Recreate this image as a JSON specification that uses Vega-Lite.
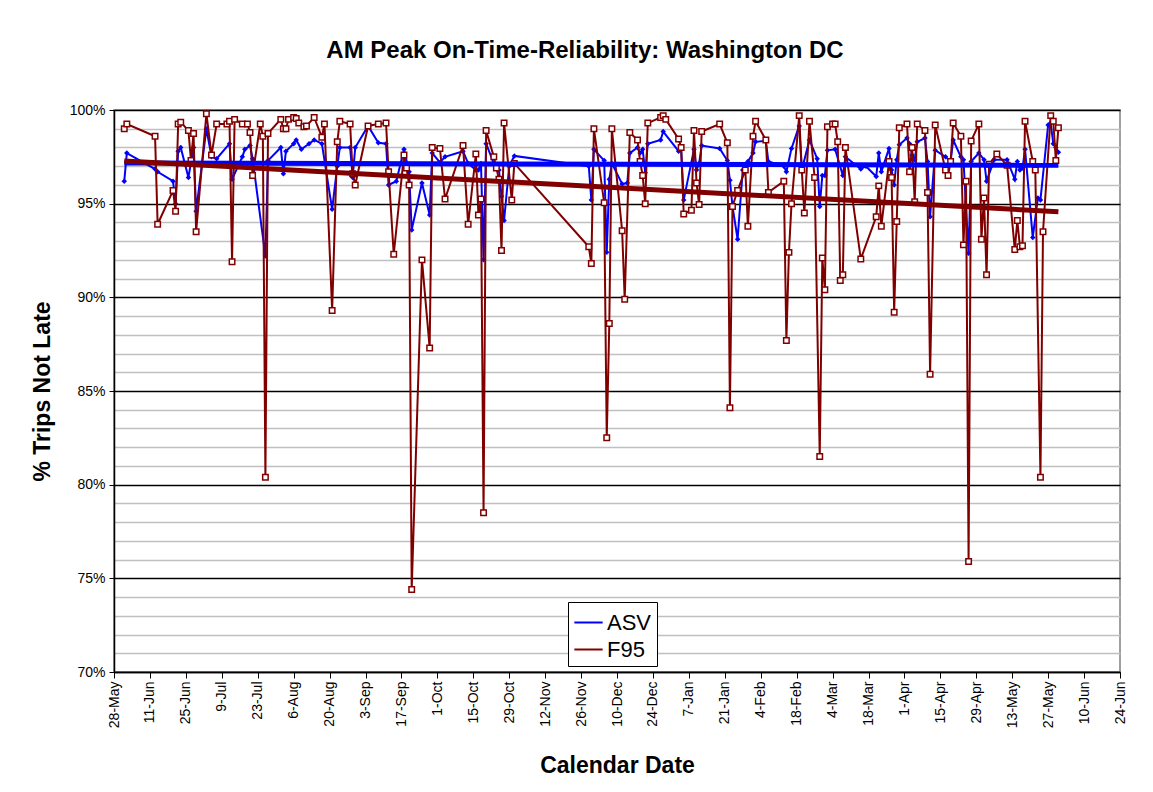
{
  "$schema": "https://vega.github.io/schema/vega-lite/v6.json",
  "width": 1006,
  "height": 562,
  "autosize": "none",
  "padding": {"left": 114, "top": 110, "right": 33, "bottom": 120},
  "background": "white",
  "title": {"text": "AM Peak On-Time-Reliability: Washington DC", "font": "Liberation Sans", "fontSize": 24, "fontWeight": "bold", "color": "black", "anchor": "middle", "frame": "group", "dx": -32, "offset": 40},
  "config": {
    "view": {"stroke": "#808080", "strokeWidth": 1.5},
    "axis": {"labelFont": "Liberation Sans", "titleFont": "Liberation Sans", "labelColor": "black", "titleColor": "black", "domainColor": "black", "domainWidth": 1.5, "tickColor": "black"}
  },
  "datasets": {
    "pts": [
      {"d":"2006-06-01","s":"ASV","v":96.2},{"d":"2006-06-02","s":"ASV","v":97.7},{"d":"2006-06-13","s":"ASV","v":96.85},{"d":"2006-06-14","s":"ASV","v":96.7},{"d":"2006-06-20","s":"ASV","v":96.2},{"d":"2006-06-21","s":"ASV","v":95.0},{"d":"2006-06-22","s":"ASV","v":97.8},{"d":"2006-06-23","s":"ASV","v":98.0},{"d":"2006-06-26","s":"ASV","v":96.4},{"d":"2006-06-28","s":"ASV","v":98.0},{"d":"2006-06-29","s":"ASV","v":94.6},
      {"d":"2006-07-03","s":"ASV","v":99.0},{"d":"2006-07-05","s":"ASV","v":97.5},{"d":"2006-07-07","s":"ASV","v":97.4},{"d":"2006-07-12","s":"ASV","v":98.2},{"d":"2006-07-13","s":"ASV","v":96.3},{"d":"2006-07-17","s":"ASV","v":97.5},{"d":"2006-07-18","s":"ASV","v":97.9},{"d":"2006-07-20","s":"ASV","v":98.1},{"d":"2006-07-21","s":"ASV","v":97.4},{"d":"2006-07-26","s":"ASV","v":92.2},{"d":"2006-07-27","s":"ASV","v":97.3},
      {"d":"2006-08-01","s":"ASV","v":98.0},{"d":"2006-08-02","s":"ASV","v":96.6},{"d":"2006-08-03","s":"ASV","v":97.8},{"d":"2006-08-06","s":"ASV","v":98.2},{"d":"2006-08-07","s":"ASV","v":98.4},{"d":"2006-08-09","s":"ASV","v":97.9},{"d":"2006-08-12","s":"ASV","v":98.2},{"d":"2006-08-14","s":"ASV","v":98.4},{"d":"2006-08-17","s":"ASV","v":98.2},{"d":"2006-08-21","s":"ASV","v":94.7},{"d":"2006-08-23","s":"ASV","v":97.0},{"d":"2006-08-24","s":"ASV","v":98.0},{"d":"2006-08-28","s":"ASV","v":98.0},{"d":"2006-08-29","s":"ASV","v":96.4},{"d":"2006-08-30","s":"ASV","v":98.0},
      {"d":"2006-09-04","s":"ASV","v":99.15},{"d":"2006-09-08","s":"ASV","v":98.25},{"d":"2006-09-11","s":"ASV","v":98.2},{"d":"2006-09-12","s":"ASV","v":96.0},{"d":"2006-09-15","s":"ASV","v":96.2},{"d":"2006-09-18","s":"ASV","v":97.9},{"d":"2006-09-20","s":"ASV","v":96.7},{"d":"2006-09-21","s":"ASV","v":93.6},{"d":"2006-09-25","s":"ASV","v":96.1},{"d":"2006-09-28","s":"ASV","v":94.4},{"d":"2006-09-29","s":"ASV","v":97.7},
      {"d":"2006-10-02","s":"ASV","v":97.2},{"d":"2006-10-04","s":"ASV","v":97.5},{"d":"2006-10-11","s":"ASV","v":97.8},{"d":"2006-10-13","s":"ASV","v":97.15},{"d":"2006-10-16","s":"ASV","v":96.8},{"d":"2006-10-17","s":"ASV","v":96.8},{"d":"2006-10-18","s":"ASV","v":97.15},{"d":"2006-10-19","s":"ASV","v":92.0},{"d":"2006-10-20","s":"ASV","v":98.2},{"d":"2006-10-23","s":"ASV","v":97.15},{"d":"2006-10-25","s":"ASV","v":96.8},{"d":"2006-10-26","s":"ASV","v":95.4},{"d":"2006-10-27","s":"ASV","v":94.1},{"d":"2006-10-29","s":"ASV","v":97.0},{"d":"2006-10-31","s":"ASV","v":97.55},
      {"d":"2006-11-29","s":"ASV","v":97.0},{"d":"2006-11-30","s":"ASV","v":95.2},{"d":"2006-12-01","s":"ASV","v":97.9},{"d":"2006-12-05","s":"ASV","v":97.3},{"d":"2006-12-06","s":"ASV","v":92.4},{"d":"2006-12-07","s":"ASV","v":96.3},{"d":"2006-12-08","s":"ASV","v":97.15},{"d":"2006-12-12","s":"ASV","v":96.05},{"d":"2006-12-14","s":"ASV","v":96.1},{"d":"2006-12-15","s":"ASV","v":97.7},{"d":"2006-12-18","s":"ASV","v":98.0},{"d":"2006-12-19","s":"ASV","v":97.7},{"d":"2006-12-20","s":"ASV","v":97.9},{"d":"2006-12-21","s":"ASV","v":96.65},{"d":"2006-12-22","s":"ASV","v":98.2},{"d":"2006-12-27","s":"ASV","v":98.4},{"d":"2006-12-28","s":"ASV","v":98.85},
      {"d":"2007-01-03","s":"ASV","v":97.8},{"d":"2007-01-04","s":"ASV","v":97.9},{"d":"2007-01-05","s":"ASV","v":95.2},{"d":"2007-01-09","s":"ASV","v":97.9},{"d":"2007-01-10","s":"ASV","v":96.8},{"d":"2007-01-11","s":"ASV","v":97.15},{"d":"2007-01-12","s":"ASV","v":98.1},{"d":"2007-01-19","s":"ASV","v":97.95},{"d":"2007-01-22","s":"ASV","v":97.3},{"d":"2007-01-23","s":"ASV","v":96.25},{"d":"2007-01-24","s":"ASV","v":94.85},{"d":"2007-01-26","s":"ASV","v":93.1},{"d":"2007-01-28","s":"ASV","v":96.8},{"d":"2007-01-30","s":"ASV","v":97.25},
      {"d":"2007-02-01","s":"ASV","v":97.7},{"d":"2007-02-02","s":"ASV","v":98.3},{"d":"2007-02-06","s":"ASV","v":98.35},{"d":"2007-02-07","s":"ASV","v":97.25},{"d":"2007-02-13","s":"ASV","v":97.0},{"d":"2007-02-14","s":"ASV","v":96.7},{"d":"2007-02-16","s":"ASV","v":97.95},{"d":"2007-02-19","s":"ASV","v":99.15},{"d":"2007-02-20","s":"ASV","v":96.8},{"d":"2007-02-23","s":"ASV","v":98.4},{"d":"2007-02-26","s":"ASV","v":97.4},{"d":"2007-02-27","s":"ASV","v":94.85},{"d":"2007-02-28","s":"ASV","v":96.5},
      {"d":"2007-03-01","s":"ASV","v":96.5},{"d":"2007-03-02","s":"ASV","v":97.85},{"d":"2007-03-05","s":"ASV","v":97.9},{"d":"2007-03-08","s":"ASV","v":96.5},{"d":"2007-03-09","s":"ASV","v":97.5},{"d":"2007-03-15","s":"ASV","v":96.85},{"d":"2007-03-17","s":"ASV","v":97.0},{"d":"2007-03-21","s":"ASV","v":96.45},{"d":"2007-03-22","s":"ASV","v":97.7},{"d":"2007-03-23","s":"ASV","v":96.7},{"d":"2007-03-26","s":"ASV","v":97.95},{"d":"2007-03-27","s":"ASV","v":96.8},{"d":"2007-03-28","s":"ASV","v":96.0},{"d":"2007-03-29","s":"ASV","v":97.35},{"d":"2007-03-30","s":"ASV","v":98.15},
      {"d":"2007-04-02","s":"ASV","v":98.5},{"d":"2007-04-03","s":"ASV","v":98.2},{"d":"2007-04-04","s":"ASV","v":97.6},{"d":"2007-04-05","s":"ASV","v":97.35},{"d":"2007-04-06","s":"ASV","v":98.3},{"d":"2007-04-09","s":"ASV","v":98.5},{"d":"2007-04-10","s":"ASV","v":97.25},{"d":"2007-04-11","s":"ASV","v":94.3},{"d":"2007-04-13","s":"ASV","v":97.85},{"d":"2007-04-17","s":"ASV","v":97.5},{"d":"2007-04-19","s":"ASV","v":97.25},{"d":"2007-04-20","s":"ASV","v":98.4},{"d":"2007-04-23","s":"ASV","v":97.5},{"d":"2007-04-24","s":"ASV","v":97.35},{"d":"2007-04-26","s":"ASV","v":92.35},{"d":"2007-04-27","s":"ASV","v":97.25},{"d":"2007-04-30","s":"ASV","v":97.7},
      {"d":"2007-05-02","s":"ASV","v":97.35},{"d":"2007-05-03","s":"ASV","v":96.2},{"d":"2007-05-06","s":"ASV","v":97.35},{"d":"2007-05-11","s":"ASV","v":97.35},{"d":"2007-05-14","s":"ASV","v":96.3},{"d":"2007-05-15","s":"ASV","v":97.25},{"d":"2007-05-16","s":"ASV","v":96.8},{"d":"2007-05-17","s":"ASV","v":96.9},{"d":"2007-05-18","s":"ASV","v":97.9},{"d":"2007-05-21","s":"ASV","v":93.2},{"d":"2007-05-23","s":"ASV","v":95.3},{"d":"2007-05-24","s":"ASV","v":95.2},{"d":"2007-05-27","s":"ASV","v":99.2},{"d":"2007-05-28","s":"ASV","v":99.3},{"d":"2007-05-29","s":"ASV","v":98.2},{"d":"2007-05-30","s":"ASV","v":98.0},{"d":"2007-05-31","s":"ASV","v":97.75},

      {"d":"2006-06-01","s":"F95","v":99.0},{"d":"2006-06-02","s":"F95","v":99.25},{"d":"2006-06-13","s":"F95","v":98.6},{"d":"2006-06-14","s":"F95","v":93.9},{"d":"2006-06-20","s":"F95","v":95.7},{"d":"2006-06-21","s":"F95","v":94.6},{"d":"2006-06-22","s":"F95","v":99.25},{"d":"2006-06-23","s":"F95","v":99.35},{"d":"2006-06-26","s":"F95","v":98.9},{"d":"2006-06-27","s":"F95","v":97.3},{"d":"2006-06-28","s":"F95","v":98.75},{"d":"2006-06-29","s":"F95","v":93.5},
      {"d":"2006-07-03","s":"F95","v":99.8},{"d":"2006-07-05","s":"F95","v":97.6},{"d":"2006-07-07","s":"F95","v":99.25},{"d":"2006-07-11","s":"F95","v":99.25},{"d":"2006-07-12","s":"F95","v":99.4},{"d":"2006-07-13","s":"F95","v":91.9},{"d":"2006-07-14","s":"F95","v":99.5},{"d":"2006-07-17","s":"F95","v":99.25},{"d":"2006-07-19","s":"F95","v":99.25},{"d":"2006-07-20","s":"F95","v":98.8},{"d":"2006-07-21","s":"F95","v":96.5},{"d":"2006-07-24","s":"F95","v":99.25},{"d":"2006-07-25","s":"F95","v":98.6},{"d":"2006-07-26","s":"F95","v":80.4},{"d":"2006-07-27","s":"F95","v":98.75},
      {"d":"2006-08-01","s":"F95","v":99.5},{"d":"2006-08-02","s":"F95","v":99.0},{"d":"2006-08-03","s":"F95","v":99.0},{"d":"2006-08-04","s":"F95","v":99.5},{"d":"2006-08-06","s":"F95","v":99.6},{"d":"2006-08-07","s":"F95","v":99.55},{"d":"2006-08-08","s":"F95","v":99.3},{"d":"2006-08-10","s":"F95","v":99.1},{"d":"2006-08-11","s":"F95","v":99.15},{"d":"2006-08-14","s":"F95","v":99.6},{"d":"2006-08-17","s":"F95","v":98.55},{"d":"2006-08-18","s":"F95","v":99.25},{"d":"2006-08-21","s":"F95","v":89.3},{"d":"2006-08-23","s":"F95","v":98.3},{"d":"2006-08-24","s":"F95","v":99.4},{"d":"2006-08-28","s":"F95","v":99.25},{"d":"2006-08-29","s":"F95","v":96.6},{"d":"2006-08-30","s":"F95","v":96.0},
      {"d":"2006-09-04","s":"F95","v":99.15},{"d":"2006-09-08","s":"F95","v":99.25},{"d":"2006-09-11","s":"F95","v":99.3},{"d":"2006-09-12","s":"F95","v":96.7},{"d":"2006-09-14","s":"F95","v":92.3},{"d":"2006-09-18","s":"F95","v":97.6},{"d":"2006-09-19","s":"F95","v":96.9},{"d":"2006-09-20","s":"F95","v":96.0},{"d":"2006-09-21","s":"F95","v":74.4},{"d":"2006-09-25","s":"F95","v":92.0},{"d":"2006-09-28","s":"F95","v":87.3},{"d":"2006-09-29","s":"F95","v":98.0},
      {"d":"2006-10-02","s":"F95","v":97.95},{"d":"2006-10-04","s":"F95","v":95.25},{"d":"2006-10-11","s":"F95","v":98.1},{"d":"2006-10-13","s":"F95","v":93.9},{"d":"2006-10-16","s":"F95","v":97.65},{"d":"2006-10-17","s":"F95","v":94.4},{"d":"2006-10-18","s":"F95","v":95.25},{"d":"2006-10-19","s":"F95","v":78.5},{"d":"2006-10-20","s":"F95","v":98.9},{"d":"2006-10-23","s":"F95","v":97.5},{"d":"2006-10-24","s":"F95","v":96.9},{"d":"2006-10-25","s":"F95","v":96.3},{"d":"2006-10-26","s":"F95","v":92.5},{"d":"2006-10-27","s":"F95","v":99.3},{"d":"2006-10-30","s":"F95","v":95.2},{"d":"2006-10-31","s":"F95","v":97.15},
      {"d":"2006-11-29","s":"F95","v":92.7},{"d":"2006-11-30","s":"F95","v":91.8},{"d":"2006-12-01","s":"F95","v":99.0},{"d":"2006-12-05","s":"F95","v":95.05},{"d":"2006-12-06","s":"F95","v":82.5},{"d":"2006-12-07","s":"F95","v":88.6},{"d":"2006-12-08","s":"F95","v":99.0},{"d":"2006-12-12","s":"F95","v":93.55},{"d":"2006-12-13","s":"F95","v":89.9},{"d":"2006-12-15","s":"F95","v":98.8},{"d":"2006-12-18","s":"F95","v":98.4},{"d":"2006-12-19","s":"F95","v":97.25},{"d":"2006-12-20","s":"F95","v":96.5},{"d":"2006-12-21","s":"F95","v":95.0},{"d":"2006-12-22","s":"F95","v":99.3},{"d":"2006-12-27","s":"F95","v":99.6},{"d":"2006-12-28","s":"F95","v":99.7},{"d":"2006-12-29","s":"F95","v":99.5},
      {"d":"2007-01-03","s":"F95","v":98.45},{"d":"2007-01-04","s":"F95","v":98.0},{"d":"2007-01-05","s":"F95","v":94.45},{"d":"2007-01-08","s":"F95","v":94.65},{"d":"2007-01-09","s":"F95","v":98.9},{"d":"2007-01-10","s":"F95","v":96.1},{"d":"2007-01-11","s":"F95","v":94.95},{"d":"2007-01-12","s":"F95","v":98.85},{"d":"2007-01-19","s":"F95","v":99.25},{"d":"2007-01-22","s":"F95","v":98.25},{"d":"2007-01-23","s":"F95","v":84.1},{"d":"2007-01-24","s":"F95","v":94.85},{"d":"2007-01-26","s":"F95","v":95.7},{"d":"2007-01-29","s":"F95","v":96.8},{"d":"2007-01-30","s":"F95","v":93.8},
      {"d":"2007-02-01","s":"F95","v":98.6},{"d":"2007-02-02","s":"F95","v":99.4},{"d":"2007-02-06","s":"F95","v":98.4},{"d":"2007-02-07","s":"F95","v":95.6},{"d":"2007-02-13","s":"F95","v":96.2},{"d":"2007-02-14","s":"F95","v":87.7},{"d":"2007-02-15","s":"F95","v":92.4},{"d":"2007-02-16","s":"F95","v":95.0},{"d":"2007-02-19","s":"F95","v":99.7},{"d":"2007-02-20","s":"F95","v":96.8},{"d":"2007-02-21","s":"F95","v":94.5},{"d":"2007-02-23","s":"F95","v":99.4},{"d":"2007-02-25","s":"F95","v":96.4},{"d":"2007-02-27","s":"F95","v":81.5},{"d":"2007-02-28","s":"F95","v":92.1},
      {"d":"2007-03-01","s":"F95","v":90.4},{"d":"2007-03-02","s":"F95","v":99.1},{"d":"2007-03-04","s":"F95","v":99.25},{"d":"2007-03-05","s":"F95","v":99.25},{"d":"2007-03-06","s":"F95","v":98.3},{"d":"2007-03-07","s":"F95","v":90.9},{"d":"2007-03-08","s":"F95","v":91.2},{"d":"2007-03-09","s":"F95","v":98.0},{"d":"2007-03-15","s":"F95","v":92.05},{"d":"2007-03-21","s":"F95","v":94.3},{"d":"2007-03-22","s":"F95","v":95.95},{"d":"2007-03-23","s":"F95","v":93.8},{"d":"2007-03-26","s":"F95","v":97.25},{"d":"2007-03-27","s":"F95","v":96.4},{"d":"2007-03-28","s":"F95","v":89.2},{"d":"2007-03-29","s":"F95","v":94.05},{"d":"2007-03-30","s":"F95","v":99.05},
      {"d":"2007-04-02","s":"F95","v":99.25},{"d":"2007-04-03","s":"F95","v":96.7},{"d":"2007-04-04","s":"F95","v":98.0},{"d":"2007-04-05","s":"F95","v":95.1},{"d":"2007-04-06","s":"F95","v":99.25},{"d":"2007-04-09","s":"F95","v":98.9},{"d":"2007-04-10","s":"F95","v":95.6},{"d":"2007-04-11","s":"F95","v":85.9},{"d":"2007-04-13","s":"F95","v":99.2},{"d":"2007-04-17","s":"F95","v":96.8},{"d":"2007-04-18","s":"F95","v":96.5},{"d":"2007-04-19","s":"F95","v":97.25},{"d":"2007-04-20","s":"F95","v":99.3},{"d":"2007-04-23","s":"F95","v":98.6},{"d":"2007-04-24","s":"F95","v":92.8},{"d":"2007-04-25","s":"F95","v":96.2},{"d":"2007-04-26","s":"F95","v":75.9},{"d":"2007-04-27","s":"F95","v":98.35},{"d":"2007-04-30","s":"F95","v":99.25},
      {"d":"2007-05-01","s":"F95","v":93.1},{"d":"2007-05-02","s":"F95","v":95.3},{"d":"2007-05-03","s":"F95","v":91.2},{"d":"2007-05-04","s":"F95","v":97.1},{"d":"2007-05-07","s":"F95","v":97.65},{"d":"2007-05-11","s":"F95","v":97.05},{"d":"2007-05-14","s":"F95","v":92.55},{"d":"2007-05-15","s":"F95","v":94.1},{"d":"2007-05-16","s":"F95","v":92.7},{"d":"2007-05-17","s":"F95","v":92.75},{"d":"2007-05-18","s":"F95","v":99.4},{"d":"2007-05-21","s":"F95","v":97.25},{"d":"2007-05-22","s":"F95","v":96.8},{"d":"2007-05-24","s":"F95","v":80.4},{"d":"2007-05-25","s":"F95","v":93.5},{"d":"2007-05-28","s":"F95","v":99.7},{"d":"2007-05-29","s":"F95","v":99.4},{"d":"2007-05-30","s":"F95","v":97.3},{"d":"2007-05-31","s":"F95","v":99.05}
    ],
    "trend": [
      {"d":"2006-06-01","s":"ASV","v":97.17},{"d":"2007-05-31","s":"ASV","v":97.05},
      {"d":"2006-06-01","s":"F95","v":97.28},{"d":"2007-05-31","s":"F95","v":94.57}
    ]
  },
  "encoding": {
    "x": {
      "field": "d", "type": "temporal",
      "scale": {"type": "utc", "domain": [{"year": 2006, "month": 5, "date": 28, "utc": true}, {"year": 2007, "month": 6, "date": 24, "utc": true}], "nice": false},
      "axis": {
        "values": [
          {"year":2006,"month":5,"date":28,"utc":true},{"year":2006,"month":6,"date":11,"utc":true},{"year":2006,"month":6,"date":25,"utc":true},{"year":2006,"month":7,"date":9,"utc":true},{"year":2006,"month":7,"date":23,"utc":true},{"year":2006,"month":8,"date":6,"utc":true},{"year":2006,"month":8,"date":20,"utc":true},{"year":2006,"month":9,"date":3,"utc":true},{"year":2006,"month":9,"date":17,"utc":true},{"year":2006,"month":10,"date":1,"utc":true},{"year":2006,"month":10,"date":15,"utc":true},{"year":2006,"month":10,"date":29,"utc":true},{"year":2006,"month":11,"date":12,"utc":true},{"year":2006,"month":11,"date":26,"utc":true},{"year":2006,"month":12,"date":10,"utc":true},{"year":2006,"month":12,"date":24,"utc":true},
          {"year":2007,"month":1,"date":7,"utc":true},{"year":2007,"month":1,"date":21,"utc":true},{"year":2007,"month":2,"date":4,"utc":true},{"year":2007,"month":2,"date":18,"utc":true},{"year":2007,"month":3,"date":4,"utc":true},{"year":2007,"month":3,"date":18,"utc":true},{"year":2007,"month":4,"date":1,"utc":true},{"year":2007,"month":4,"date":15,"utc":true},{"year":2007,"month":4,"date":29,"utc":true},{"year":2007,"month":5,"date":13,"utc":true},{"year":2007,"month":5,"date":27,"utc":true},{"year":2007,"month":6,"date":10,"utc":true},{"year":2007,"month":6,"date":24,"utc":true}
        ],
        "format": "%-d-%b",
        "labelAngle": 270, "labelFontSize": 14, "labelPadding": 3, "labelOverlap": false,
        "tickSize": 6, "grid": false,
        "title": "Calendar Date", "titleFontSize": 23, "titleFontWeight": "bold", "titleY": 93, "titleBaseline": "middle"
      }
    },
    "y": {
      "field": "v", "type": "quantitative",
      "scale": {"domain": [70, 100], "nice": false, "zero": false},
      "axis": {
        "values": [70,71,72,73,74,75,76,77,78,79,80,81,82,83,84,85,86,87,88,89,90,91,92,93,94,95,96,97,98,99,100],
        "labelExpr": "datum.value % 5 === 0 ? datum.value + '%' : ''",
        "labelOverlap": false, "labelFontSize": 14, "labelPadding": 4,
        "tickSize": 5,
        "tickColor": {"condition": {"test": "datum.value % 5 === 0", "value": "black"}, "value": "transparent"},
        "grid": true,
        "gridColor": {"condition": {"test": "datum.value % 5 === 0", "value": "black"}, "value": "#c0c0c0"},
        "gridWidth": 1.5,
        "title": "% Trips Not Late", "titleFontSize": 23, "titleFontWeight": "bold", "titleX": -72, "titleY": 281, "titleBaseline": "middle"
      }
    }
  },
  "layer": [
    {
      "data": {"name": "pts"},
      "transform": [{"filter": "datum.s === 'ASV'"}],
      "mark": {"type": "line", "strokeWidth": 2},
      "encoding": {
        "color": {"field": "s", "type": "nominal", "scale": {"domain": ["ASV", "F95"], "range": ["#0000ff", "#800000"]},
          "legend": {"orient": "none", "legendX": 454, "legendY": 492, "title": null, "strokeColor": "black", "fillColor": "white", "padding": 5, "labelFontSize": 22, "labelFont": "Liberation Sans", "labelColor": "black", "symbolType": "stroke", "symbolSize": 800, "symbolStrokeWidth": 2, "rowPadding": 0, "labelOffset": 3}}
      }
    },
    {
      "data": {"name": "pts"},
      "transform": [{"filter": "datum.s === 'ASV'"}],
      "mark": {"type": "point", "shape": "diamond", "filled": true, "color": "#0000ff", "size": 30, "opacity": 1}
    },
    {
      "data": {"name": "pts"},
      "transform": [{"filter": "datum.s === 'F95'"}],
      "mark": {"type": "line", "strokeWidth": 2},
      "encoding": {"color": {"field": "s", "type": "nominal"}}
    },
    {
      "data": {"name": "pts"},
      "transform": [{"filter": "datum.s === 'F95'"}],
      "mark": {"type": "point", "shape": "square", "filled": true, "fill": "white", "stroke": "#800000", "strokeWidth": 1.5, "size": 30, "opacity": 1}
    },
    {
      "data": {"name": "trend"},
      "mark": {"type": "line", "strokeWidth": 5},
      "encoding": {"color": {"field": "s", "type": "nominal"}}
    }
  ]
}
